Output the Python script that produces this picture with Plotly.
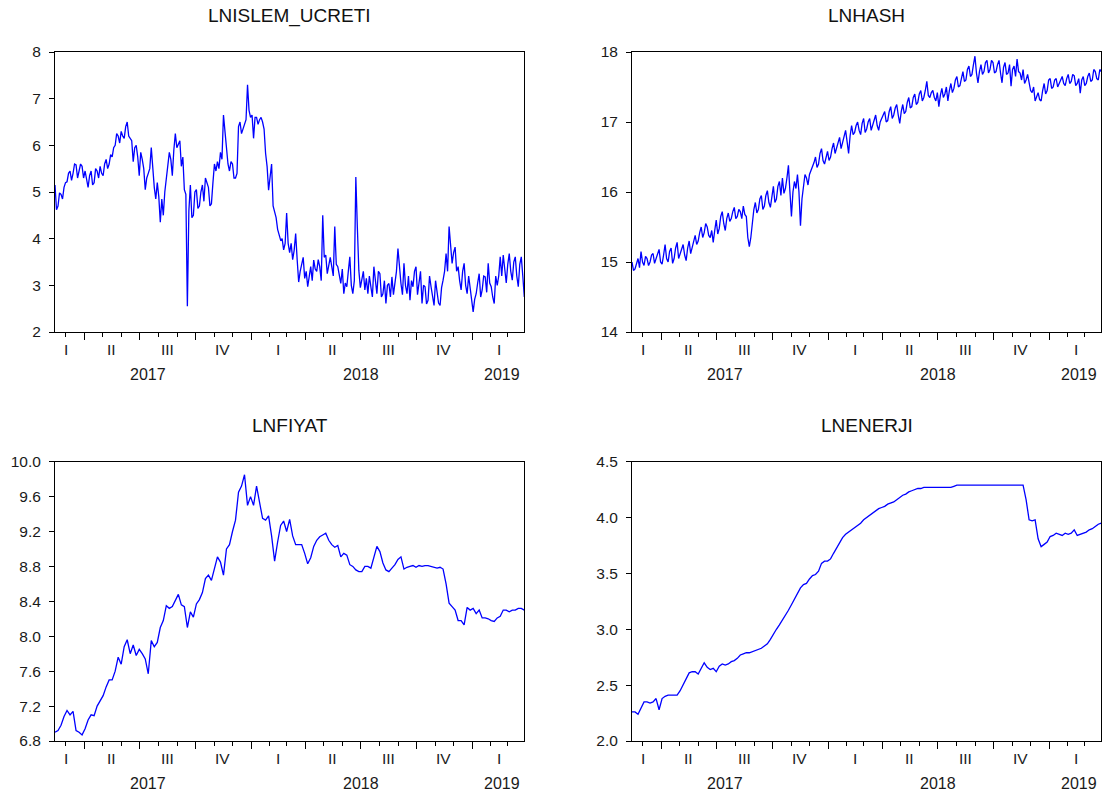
import pandas as pd
import plotly.graph_objects as go

# Daily sample, first and last observation
FIRST_DAY = "2017-02-11"
LAST_DAY = "2019-03-28"

# Series values, evenly spaced over the sample
lnislem_ucreti = [
    5.15, 4.62, 4.7, 4.98, 4.95, 4.85, 5.1, 5.2, 5.22, 5.4, 5.45, 5.25, 5.4, 5.6, 5.58, 5.3, 5.45, 5.6, 5.55, 5.3,
    5.45, 5.3, 5.1, 5.35, 5.45, 5.15, 5.2, 5.5, 5.45, 5.3, 5.55, 5.4, 5.35, 5.6, 5.7, 5.5, 5.6, 5.8, 5.75, 5.95,
    6.0, 6.25, 6.2, 6.05, 6.3, 6.2, 6.15, 6.4, 6.5, 6.2, 6.15, 6.1, 5.65, 5.95, 6.0, 5.75, 5.35, 5.85, 5.7, 5.5,
    5.05, 5.3, 5.4, 5.5, 5.95, 5.4, 5.1, 4.85, 5.2, 4.9, 4.35, 4.85, 4.5, 5.0, 5.3, 5.55, 5.85, 5.7, 5.35, 5.9,
    6.25, 5.95, 6.05, 6.1, 5.55, 5.75, 5.05, 4.95, 2.55, 4.6, 5.15, 4.45, 4.5, 5.0, 5.05, 4.65, 4.7, 5.0, 5.15, 4.8,
    5.3, 5.2, 5.1, 4.7, 4.75, 5.2, 5.6, 5.45, 5.65, 5.5, 5.85, 5.7, 6.65, 6.3, 5.9, 5.6, 5.45, 5.65, 5.6, 5.3,
    5.3, 5.4, 6.4, 6.5, 6.25, 6.35, 6.45, 6.55, 7.3, 6.75, 6.6, 6.65, 6.15, 6.6, 6.6, 6.45, 6.55, 6.6, 6.5, 6.35,
    5.83, 5.55, 5.04, 5.3, 5.6, 4.7, 4.55, 4.45, 4.2, 4.1, 3.97, 4.0, 3.76, 3.9, 4.55, 3.9, 3.7, 3.9, 3.55, 3.75,
    4.11, 3.55, 3.07, 3.3, 3.43, 3.6, 3.15, 3.3, 2.97, 3.2, 3.4, 3.1, 3.54, 3.35, 3.3, 3.55, 3.4, 3.1, 4.5, 3.6,
    3.65, 3.25, 3.47, 3.6, 3.4, 3.2, 4.26, 3.45, 3.4, 3.2, 3.04, 3.35, 2.82, 3.05, 2.97, 3.3, 3.61, 3.0, 2.82, 3.1,
    5.32, 4.25, 3.32, 2.95, 3.18, 3.3, 2.9, 3.15, 2.82, 3.2, 2.97, 2.75, 3.4, 3.05, 2.82, 3.3, 3.25, 2.75, 2.82, 3.1,
    2.61, 3.0, 3.04, 2.75, 3.18, 2.8, 3.0, 3.3, 3.79, 3.3, 3.04, 2.8, 3.47, 3.0, 2.82, 3.2, 2.68, 3.1, 2.97, 3.3,
    3.4, 2.8, 3.04, 3.3, 2.61, 3.0, 2.97, 2.6, 2.68, 3.2, 2.97, 2.75, 2.57, 3.1, 2.9, 2.62, 2.57, 2.95, 3.11, 3.3,
    3.68, 3.3, 4.26, 3.75, 3.47, 3.7, 3.82, 3.3, 3.4, 3.1, 2.9, 3.3, 3.47, 3.0, 2.82, 3.2, 2.9, 2.7, 2.43, 2.7,
    2.82, 3.05, 3.25, 2.75, 2.9, 3.2, 3.18, 2.85, 3.47, 3.05, 2.97, 2.75, 2.61, 3.2, 3.0, 3.2, 3.61, 3.2, 3.65, 3.35,
    3.05, 3.45, 3.68, 3.3, 3.11, 3.5, 3.61, 3.2, 2.97, 3.45, 3.61, 3.2, 2.75,
]

lnhash = [
    15.0, 14.88, 14.9, 15.0, 15.05, 14.92, 15.15, 15.0, 14.95, 15.08, 15.05, 14.95, 15.0, 15.1, 15.12, 14.98, 15.05, 15.1, 15.18, 15.0,
    14.97, 15.1, 15.25, 15.05, 15.0, 15.15, 15.2, 14.98, 15.05, 15.2, 15.28, 15.05, 15.12, 15.2, 15.25, 15.1, 15.02, 15.2, 15.3, 15.12,
    15.2, 15.3, 15.38, 15.25, 15.3, 15.42, 15.5, 15.35, 15.42, 15.55, 15.5, 15.38, 15.35, 15.45, 15.28, 15.45, 15.6, 15.4, 15.48, 15.65,
    15.72, 15.55, 15.45, 15.62, 15.7, 15.58, 15.62, 15.72, 15.78, 15.62, 15.65, 15.75, 15.72, 15.62, 15.8, 15.68, 15.65, 15.35, 15.22, 15.35,
    15.6, 15.75, 15.85, 15.7, 15.75, 15.9, 15.95, 15.75, 15.8, 15.95, 16.02, 15.85, 15.78, 15.98, 16.08, 15.85, 15.9, 16.08, 16.15, 15.95,
    16.2, 15.98, 16.05, 16.2, 16.38, 16.0, 15.65, 16.0, 16.15, 16.05, 16.25, 16.0, 15.52, 15.9, 16.05, 16.25, 16.2, 16.1, 16.25, 16.3,
    16.35, 16.42, 16.5, 16.35, 16.4, 16.55, 16.62, 16.45, 16.4, 16.52, 16.58, 16.45, 16.5, 16.62, 16.7, 16.55, 16.62, 16.72, 16.78, 16.62,
    16.7, 16.8, 16.88, 16.72, 16.55, 16.8, 16.95, 16.82, 16.85, 16.95, 17.0, 16.88, 16.82, 16.98, 17.05, 16.85, 16.9, 17.0, 17.05, 16.88,
    16.95, 17.05, 17.1, 16.95, 16.88, 17.0, 17.05, 17.1, 17.15, 17.0, 17.02, 17.15, 17.22, 17.05, 17.1, 17.2, 17.25, 17.1, 16.98, 17.15,
    17.25, 17.12, 17.15, 17.28, 17.35, 17.2, 17.22, 17.35, 17.4, 17.25, 17.28, 17.4, 17.45, 17.3, 17.35, 17.45, 17.58, 17.38, 17.35, 17.42,
    17.45, 17.35, 17.3, 17.42, 17.22, 17.38, 17.48, 17.35, 17.4, 17.5, 17.3, 17.45, 17.55, 17.42, 17.48, 17.6, 17.65, 17.5, 17.52, 17.62,
    17.72, 17.58, 17.6, 17.75, 17.8, 17.65, 17.68, 17.82, 17.94, 17.7, 17.56, 17.72, 17.82, 17.68, 17.72, 17.85, 17.88, 17.7, 17.75, 17.88,
    17.85, 17.7, 17.72, 17.82, 17.88, 17.7, 17.56, 17.78, 17.85, 17.68, 17.7, 17.82, 17.51, 17.75, 17.8, 17.65, 17.9, 17.72, 17.7, 17.6,
    17.75, 17.55, 17.6, 17.68, 17.55, 17.45, 17.42, 17.5, 17.3, 17.38, 17.42, 17.32, 17.3, 17.45, 17.55, 17.4, 17.45, 17.6, 17.62, 17.48,
    17.5, 17.6, 17.62, 17.5, 17.55, 17.62, 17.65, 17.55, 17.52, 17.62, 17.68, 17.55, 17.58, 17.68, 17.66, 17.52, 17.55, 17.62, 17.41, 17.6,
    17.65, 17.52, 17.55, 17.65, 17.7, 17.58, 17.6, 17.75, 17.72, 17.62, 17.6, 17.75, 17.72,
]

lnfiyat = [
    6.9, 6.92, 6.98, 7.08, 7.15, 7.1, 7.14, 6.92, 6.9, 6.87,
    6.94, 7.04, 7.1, 7.09, 7.2, 7.26, 7.32, 7.42, 7.5, 7.5,
    7.6, 7.76, 7.68, 7.88, 7.96, 7.8, 7.9, 7.78, 7.85, 7.8,
    7.74, 7.57, 7.95, 7.88, 7.93, 8.1, 8.18, 8.35, 8.32, 8.34,
    8.42, 8.48, 8.36, 8.34, 8.1, 8.28, 8.22, 8.37, 8.42, 8.5,
    8.66, 8.7, 8.64, 8.78, 8.91, 8.85, 8.7, 9.0, 9.05, 9.2,
    9.33, 9.65, 9.72, 9.85, 9.5, 9.6, 9.5, 9.72, 9.55, 9.35,
    9.33, 9.38, 9.15, 8.86, 9.08, 9.27, 9.32, 9.2, 9.34, 9.15,
    9.05, 9.05, 9.05, 8.95, 8.83, 8.9, 9.03, 9.1, 9.14, 9.16,
    9.18, 9.1, 9.05, 9.02, 9.04, 8.91, 8.95, 8.93, 8.82, 8.8,
    8.76, 8.74, 8.74, 8.8, 8.8, 8.78, 8.91, 9.03, 8.97, 8.84,
    8.76, 8.74, 8.78, 8.82, 8.88, 8.91, 8.77, 8.79, 8.8, 8.81,
    8.79, 8.81, 8.8, 8.81, 8.81, 8.8, 8.79, 8.78, 8.79, 8.77,
    8.6, 8.38, 8.34, 8.3, 8.18, 8.18, 8.13, 8.33, 8.3, 8.32,
    8.26, 8.3, 8.21, 8.21, 8.2, 8.18, 8.17, 8.21, 8.23, 8.3,
    8.3, 8.28, 8.3, 8.3, 8.32, 8.32, 8.3,
]

lnenerji = [
    2.26, 2.26, 2.24, 2.29, 2.35, 2.35, 2.34, 2.35, 2.38, 2.28,
    2.38, 2.4, 2.41, 2.41, 2.41, 2.41, 2.45, 2.5, 2.56, 2.61,
    2.62, 2.62, 2.6, 2.65, 2.7, 2.66, 2.64, 2.65, 2.62, 2.67,
    2.69, 2.68, 2.69, 2.71, 2.72, 2.74, 2.77, 2.78, 2.79, 2.79,
    2.8, 2.81, 2.82, 2.83, 2.85, 2.87, 2.91, 2.96, 3.0, 3.04,
    3.08, 3.13, 3.17, 3.22, 3.27, 3.32, 3.37, 3.4, 3.41, 3.45,
    3.48, 3.49, 3.52, 3.59, 3.61, 3.61, 3.63, 3.68, 3.73, 3.78,
    3.82, 3.85, 3.87, 3.89, 3.91, 3.93, 3.95, 3.98, 4.0, 4.02,
    4.04, 4.06, 4.08, 4.09, 4.1, 4.12, 4.13, 4.14, 4.16, 4.18,
    4.2, 4.21, 4.23, 4.24, 4.25, 4.26, 4.26, 4.27, 4.27, 4.27,
    4.27, 4.27, 4.27, 4.27, 4.27, 4.27, 4.27, 4.28, 4.29, 4.29,
    4.29, 4.29, 4.29, 4.29, 4.29, 4.29, 4.29, 4.29, 4.29, 4.29,
    4.29, 4.29, 4.29, 4.29, 4.29, 4.29, 4.29, 4.29, 4.29, 4.29,
    4.29, 4.16, 3.98, 3.97, 3.98, 3.81, 3.74, 3.76, 3.78, 3.83,
    3.84, 3.86, 3.85, 3.84, 3.86, 3.85, 3.86, 3.89, 3.84, 3.85,
    3.86, 3.87, 3.89, 3.9, 3.92, 3.94, 3.95,
]

# Calendar labelling of the time axis
quarter_starts = ["2017-04-01", "2017-07-01", "2017-10-01", "2018-01-01",
                  "2018-04-01", "2018-07-01", "2018-10-01", "2019-01-01"]
quarter_labels = ["I", "II", "III", "IV", "I", "II", "III", "IV", "I"]
quarter_label_dates = ["2017-03-01", "2017-05-16", "2017-08-15", "2017-11-15",
                       "2018-02-14", "2018-05-16", "2018-08-15", "2018-11-15",
                       "2019-02-14"]
year_labels = ["2017", "2018", "2019"]
year_label_dates = ["2017-07-14", "2018-07-02", "2019-02-19"]

W, H = 1113, 796
FONT = "Liberation Sans, Arial, sans-serif"
LINE_BLUE = "#0000ff"


def px_x(v):
    return v / W


def px_y(v):
    return 1 - v / H


# (title, values, x-domain px, y-domain px, y range, y step, y format)
panels = [
    ("LNISLEM_UCRETI", lnislem_ucreti, (55, 524.3), (332, 52), (2, 8), 1, "d"),
    ("LNHASH", lnhash, (632, 1101.3), (332, 52), (14, 18), 1, "d"),
    ("LNFIYAT", lnfiyat, (55, 524.3), (741, 461.7), (6.8, 10.0), 0.4, ".1f"),
    ("LNENERJI", lnenerji, (632, 1101.3), (741, 461.7), (2.0, 4.5), 0.5, ".1f"),
]

fig = go.Figure()
annotations = []
layout_axes = {}

for i, (title, values, xdom, ydom, yrange, ystep, yfmt) in enumerate(panels, start=1):
    xname = "x" if i == 1 else f"x{i}"
    yname = "y" if i == 1 else f"y{i}"
    xkey = "xaxis" if i == 1 else f"xaxis{i}"
    ykey = "yaxis" if i == 1 else f"yaxis{i}"

    dates = pd.date_range(FIRST_DAY, LAST_DAY, periods=len(values))
    fig.add_trace(go.Scatter(
        x=dates, y=values, mode="lines",
        line=dict(color=LINE_BLUE, width=1.3),
        xaxis=xname, yaxis=yname, hoverinfo="skip",
    ))

    layout_axes[xkey] = dict(
        domain=[px_x(xdom[0]), px_x(xdom[1])], anchor=yname, type="date",
        range=[FIRST_DAY, LAST_DAY], tickmode="array", tickvals=quarter_starts,
        ticks="outside", ticklen=7, tickwidth=1, tickcolor="black",
        showticklabels=False, showline=True, mirror=True, linecolor="black",
        linewidth=1, showgrid=False, zeroline=False, automargin=False,
        minor=dict(ticks="outside", ticklen=3.5, tickwidth=1, tickcolor="black",
                   dtick="M1", tick0="2017-01-01", showgrid=False),
    )
    layout_axes[ykey] = dict(
        domain=[px_y(ydom[0]), px_y(ydom[1])], anchor=xname,
        range=list(yrange), tickmode="linear", tick0=yrange[0], dtick=ystep,
        tickformat=yfmt, ticks="outside", ticklen=5, tickwidth=1,
        tickcolor="black", ticklabelstandoff=5, automargin=False,
        tickfont=dict(family=FONT, size=15.5, color="#1a1a1a"),
        showline=True, mirror=True, linecolor="black", linewidth=1,
        showgrid=False, zeroline=False,
    )

    # panel title
    annotations.append(dict(
        text=title, xref="paper", yref="paper",
        x=px_x((xdom[0] + xdom[1]) / 2), y=px_y(ydom[1] - 36),
        xanchor="center", yanchor="middle", showarrow=False,
        font=dict(family=FONT, size=19, color="#111111"),
    ))
    # quarter and year labels under the time axis
    for lab, d in zip(quarter_labels, quarter_label_dates):
        annotations.append(dict(
            text=lab, xref=xname, yref="paper", x=d, y=px_y(ydom[0] + 17.5),
            xanchor="center", yanchor="middle", showarrow=False,
            font=dict(family=FONT, size=15.5, color="#1a1a1a"),
        ))
    for lab, d in zip(year_labels, year_label_dates):
        annotations.append(dict(
            text=lab, xref=xname, yref="paper", x=d, y=px_y(ydom[0] + 42.5),
            xanchor="center", yanchor="middle", showarrow=False,
            font=dict(family=FONT, size=16, color="#1a1a1a"),
        ))

fig.update_layout(
    width=W, height=H, margin=dict(l=0, r=0, t=0, b=0, pad=0, autoexpand=False),
    paper_bgcolor="white", plot_bgcolor="white", showlegend=False,
    annotations=annotations, **layout_axes,
)

fig.write_html("out.html")
